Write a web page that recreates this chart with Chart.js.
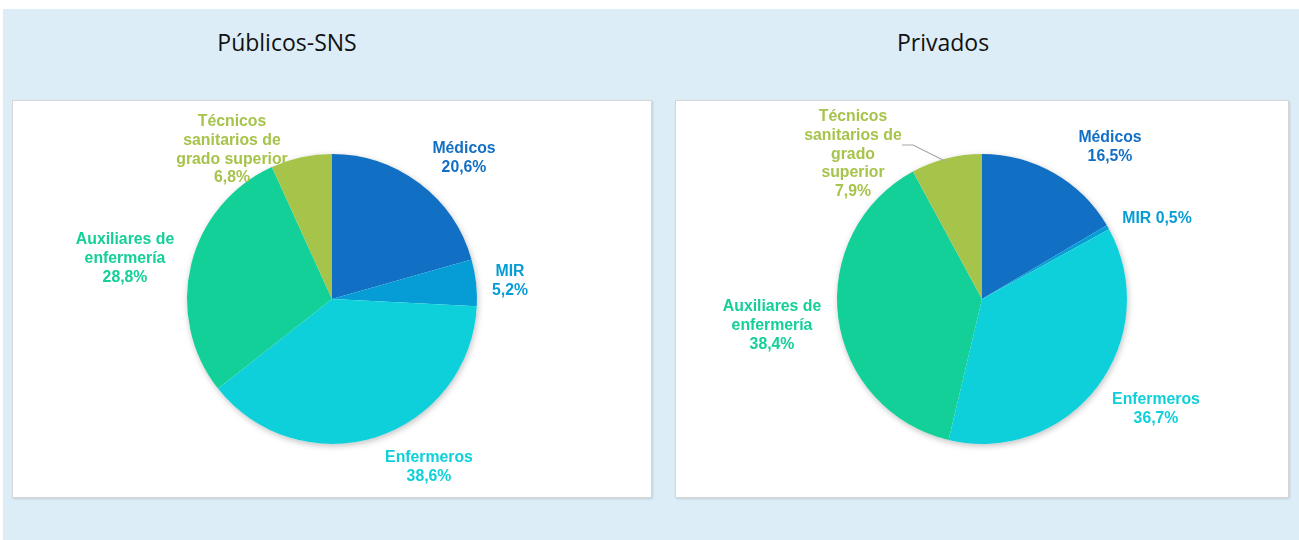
<!DOCTYPE html>
<html>
<head>
<meta charset="utf-8">
<script src="https://cdn.jsdelivr.net/npm/chart.js@4.4.1/dist/chart.umd.min.js"></script>
<style>
    body { margin: 0; background: #fff; width: 1299px; height: 540px; overflow: hidden; font-family: "Open Sans", sans-serif; }
    #bg { position: absolute; left: 3px; top: 9px; width: 1296px; height: 531px; background: #dcedf7; }
    .title { position: absolute; top: 26px; font-size: 23px; color: #111; text-align: center; width: 400px; line-height: 32px; }
    .panel { position: absolute; top: 100px; height: 396px; background: #fff; border: 1px solid #d6d6d6; box-shadow: 1px 1px 2px rgba(0,0,0,0.12); }
    canvas { position: absolute; }
</style>
</head>
<body>
<div id="bg"></div>
<div class="title" style="left:87px">Públicos-SNS</div>
<div class="title" style="left:743px">Privados</div>
<div class="panel" style="left:12px; width:638px"></div>
<div class="panel" style="left:675px; width:612px"></div>
<canvas id="chart-publicos" width="636" height="396" style="left:14px; top:101px"></canvas>
<canvas id="chart-privados" width="610" height="396" style="left:677px; top:101px"></canvas>
<script>
const categories = ['Médicos', 'MIR', 'Enfermeros', 'Auxiliares de enfermería', 'Técnicos sanitarios de grado superior'];
const publicosValues = [20.6, 5.2, 38.6, 28.8, 6.8];
const privadosValues = [16.5, 0.5, 36.7, 38.4, 7.9];
const sliceColors = ['#116fc4', '#069cd6', '#0dd0da', '#13cf98', '#a6c34a'];

// label lines for each slice (name split like the original), value appended as last line
const publicosLabelLines = [['Médicos'], ['MIR'], ['Enfermeros'], ['Auxiliares de', 'enfermería'], ['Técnicos', 'sanitarios de', 'grado superior']];
const privadosLabelLines = [['Médicos'], ['MIR'], ['Enfermeros'], ['Auxiliares de', 'enfermería'], ['Técnicos', 'sanitarios de', 'grado', 'superior']];

// label anchor offsets from the pie centre (first line)
const publicosLabelPos = [[132, -150], [178, -27], [97, 159], [-207, -59], [-100, -177]];
const privadosLabelPos = [[128, -161], [175, -80], [174, 101], [-210, 8], [-129, -182]];

function fmt(v) {
    return v.toFixed(1).replace('.', ',') + '%';
}

const pieShadow = {
    id: 'pieShadow',
    beforeDatasetsDraw(chart) {
        const arc = chart.getDatasetMeta(0).data[0];
        if (!arc) return;
        const ctx = chart.ctx;
        ctx.save();
        ctx.shadowColor = 'rgba(0,0,0,0.25)';
        ctx.shadowBlur = 6;
        ctx.shadowOffsetX = 1;
        ctx.shadowOffsetY = 2;
        ctx.fillStyle = '#ffffff';
        ctx.beginPath();
        ctx.arc(arc.x, arc.y, arc.outerRadius, 0, Math.PI * 2);
        ctx.fill();
        ctx.restore();
    }
};

const sliceLabels = {
    id: 'sliceLabels',
    afterDraw(chart, args, opts) {
        const arc = chart.getDatasetMeta(0).data[0];
        const ctx = chart.ctx;
        const values = chart.data.datasets[0].data;
        ctx.save();
        ctx.font = 'bold 15.8px "Liberation Sans", Arial, sans-serif';
        ctx.textAlign = 'center';
        ctx.textBaseline = 'middle';
        opts.lines.forEach((lines, i) => {
            const [dx, dy] = opts.pos[i];
            ctx.fillStyle = sliceColors[i];
            const all = opts.inline && opts.inline[i] ? [lines.join(' ') + ' ' + fmt(values[i])] : lines.concat([fmt(values[i])]);
            all.forEach((t, k) => {
                ctx.fillText(t, arc.x + dx, arc.y + dy + k * 18.7);
            });
        });
        if (opts.leader) {
            ctx.strokeStyle = '#a6a6a6';
            ctx.lineWidth = 1.2;
            ctx.beginPath();
            opts.leader.forEach(([dx, dy], k) => {
                if (k === 0) ctx.moveTo(arc.x + dx, arc.y + dy);
                else ctx.lineTo(arc.x + dx, arc.y + dy);
            });
            ctx.stroke();
        }
        ctx.restore();
    }
};

function renderPie(id, values, lines, pos, extra) {
    const ctx = document.getElementById(id).getContext('2d');
    return new Chart(ctx, {
        type: 'pie',
        data: {
            labels: categories,
            datasets: [{
                data: values,
                backgroundColor: sliceColors,
                borderWidth: 0
            }]
        },
        options: {
            responsive: false,
            animation: false,
            layout: { padding: { top: 53, bottom: 53 } },
            plugins: {
                legend: { display: false },
                tooltip: { enabled: false },
                sliceLabels: Object.assign({ lines: lines, pos: pos }, extra)
            }
        },
        plugins: [pieShadow, sliceLabels]
    });
}

renderPie('chart-publicos', publicosValues, publicosLabelLines, publicosLabelPos, {});
renderPie('chart-privados', privadosValues, privadosLabelLines, privadosLabelPos, {
    inline: [false, true, false, false, false],
    leader: [[-80, -154], [-69, -154], [-37, -138]]
});
</script>
</body>
</html>
